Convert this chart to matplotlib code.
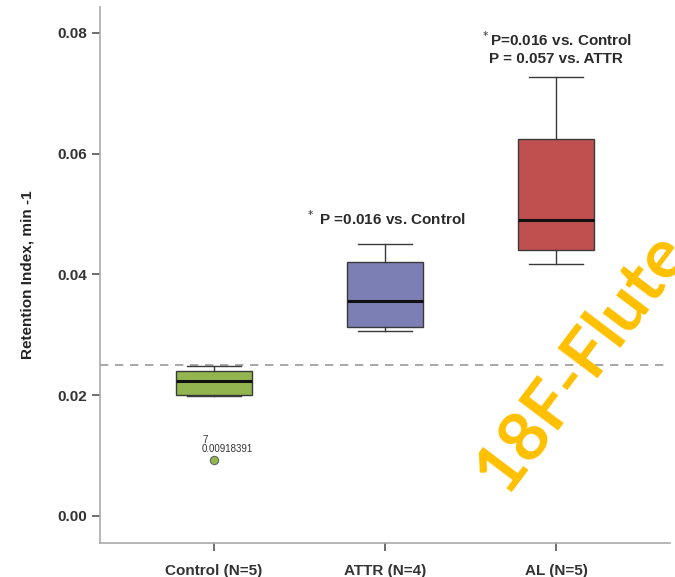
import numpy as np
import matplotlib
matplotlib.use('Agg')
import matplotlib.pyplot as plt

plt.rcParams['font.family'] = ['Liberation Sans', 'DejaVu Sans']

# 各组箱线图数值
groups = ['Control (N=5)', 'ATTR (N=4)', 'AL (N=5)']
whisker_lo = [0.0199, 0.0307, 0.0418]
q1 = [0.0200, 0.0313, 0.0441]
median = [0.0224, 0.0356, 0.0490]
q3 = [0.0240, 0.0421, 0.0625]
whisker_hi = [0.0248, 0.0451, 0.0727]
outliers = [[0.00918391], [], []]
colors = ['#92b54f', '#7c7fb4', '#c0504f']
ref_line = 0.025

fig = plt.figure(figsize=(6.75, 5.77), dpi=100)
ax = fig.add_axes([100 / 675, 34 / 577, 570 / 675, 536 / 577])

stats = []
for i in range(len(groups)):
    stats.append({'whislo': whisker_lo[i], 'q1': q1[i], 'med': median[i],
                  'q3': q3[i], 'whishi': whisker_hi[i], 'fliers': outliers[i]})

bp = ax.bxp(stats, positions=range(len(groups)), widths=0.44, patch_artist=True,
            showfliers=True,
            boxprops=dict(edgecolor='#3a3a3a', linewidth=1.0),
            medianprops=dict(color='#111111', linewidth=2.2),
            whiskerprops=dict(color='#3a3a3a', linewidth=1.0),
            capprops=dict(color='#3a3a3a', linewidth=1.0),
            capwidths=0.32,
            flierprops=dict(marker='o', markersize=6, markerfacecolor='#92b54f',
                            markeredgecolor='#666666', markeredgewidth=0.8))
for patch, c in zip(bp['boxes'], colors):
    patch.set_facecolor(c)

ax.axhline(ref_line, color='#999999', linestyle=(0, (5, 4)), linewidth=1.2, zorder=0)

# 离群点标注
ax.text(-0.07, outliers[0][0] + 0.0025, '7', fontsize=7, color='#333333', ha='left', va='bottom')
ax.text(-0.07, outliers[0][0] + 0.0010, '{:.8f}'.format(outliers[0][0]), fontsize=7,
        color='#333333', ha='left', va='bottom')

# 显著性标注
txt_kw = dict(fontsize=11, color='#2b2b2b', ha='center', fontweight='bold')
ax.text(1, 0.0482, r'$^*$ P =0.016 vs. Control', **txt_kw)
ax.text(2, 0.0778, r'$^*$P=0.016 vs. Control', **txt_kw)
ax.text(2, 0.0750, 'P = 0.057 vs. ATTR', **txt_kw)

ax.set_xlim(-0.667, 2.667)
ax.set_ylim(-0.0045, 0.0843)
ax.set_xticks(range(len(groups)))
ax.set_xticklabels(groups)
ax.set_yticks([0.0, 0.02, 0.04, 0.06, 0.08])
ax.set_yticklabels(['0.00', '0.02', '0.04', '0.06', '0.08'])
ax.set_ylabel('Retention Index, min -1', fontsize=11, fontweight='bold', color='#222222',
              labelpad=16)

for side in ['top', 'right']:
    ax.spines[side].set_visible(False)
for side in ['left', 'bottom']:
    ax.spines[side].set_color('#aaaaaa')
    ax.spines[side].set_linewidth(1.2)
ax.tick_params(axis='both', colors='#555555', length=6, width=1.2, labelsize=11,
               labelcolor='#333333')
ax.tick_params(axis='x', pad=9)
for lab in ax.get_xticklabels() + ax.get_yticklabels():
    lab.set_fontweight('bold')

# 水印（原图中右侧被裁切）
fig.text(0.762, 0.13, '18F-Flute', fontsize=50, fontweight='bold', color='#ffc000',
         family=['Lato', 'DejaVu Sans'], rotation=53, rotation_mode='anchor',
         ha='left', va='bottom')

fig.savefig('out.png', dpi=100)
